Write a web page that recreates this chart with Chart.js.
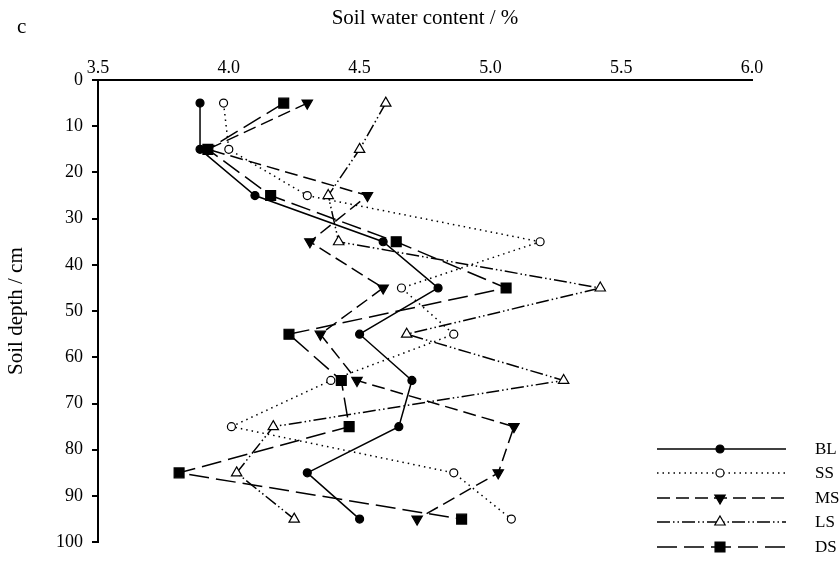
<!DOCTYPE html>
<html>
<head>
<meta charset="utf-8">
<script src="https://cdn.jsdelivr.net/npm/chart.js@4/dist/chart.umd.min.js"></script>
<style>
  html, body { margin: 0; padding: 0; background: #fff; }
  #wrap { width: 839px; height: 562px; position: relative; }
</style>
</head>
<body>
<div id="wrap"><canvas id="c" width="839" height="562"></canvas></div>
<script>
// Sampling depths (cm), midpoint of each 10 cm layer
const depths = [5, 15, 25, 35, 45, 55, 65, 75, 85, 95];

// Soil water content (%) per treatment
const BL = [3.89, 3.89, 4.10, 4.59, 4.80, 4.50, 4.70, 4.65, 4.30, 4.50];
const SS = [3.98, 4.00, 4.30, 5.19, 4.66, 4.86, 4.39, 4.01, 4.86, 5.08];
const MS = [4.30, 3.92, 4.53, 4.31, 4.59, 4.35, 4.49, 5.09, 5.03, 4.72];
const LS = [4.60, 4.50, 4.38, 4.42, 5.42, 4.68, 5.28, 4.17, 4.03, 4.25];
const DS = [4.21, 3.92, 4.16, 4.64, 5.06, 4.23, 4.43, 4.46, 3.81, 4.89];

const seriesNames = ['BL', 'SS', 'MS', 'LS', 'DS'];
const xTicks = [3.5, 4.0, 4.5, 5.0, 5.5, 6.0];
const yTicks = [0, 10, 20, 30, 40, 50, 60, 70, 80, 90, 100];

const SERIF = '"Liberation Serif", "DejaVu Serif", serif';

const styles = {
  BL: { dash: [], pointStyle: 'circle', radius: 4, fill: '#000', rotation: 0 },
  SS: { dash: [1.5, 4], pointStyle: 'circle', radius: 4, fill: '#fff', rotation: 0 },
  MS: { dash: [13, 6], pointStyle: 'triangle', radius: 6, fill: '#000', rotation: 180 },
  LS: { dash: [13, 3, 1.5, 3, 1.5, 3], pointStyle: 'triangle', radius: 6, fill: '#fff', rotation: 0 },
  DS: { dash: [20, 7], pointStyle: 'rect', radius: 7, fill: '#000', rotation: 0 }
};

const values = { BL, SS, MS, LS, DS };

const datasets = seriesNames.map(name => {
  const s = styles[name];
  return {
    label: name,
    data: values[name].map((v, i) => ({ x: v, y: depths[i] })),
    showLine: true,
    borderColor: '#000',
    borderWidth: 1.5,
    borderDash: s.dash,
    pointStyle: s.pointStyle,
    pointRadius: s.radius,
    pointHoverRadius: s.radius,
    pointRotation: s.rotation,
    pointBackgroundColor: s.fill,
    pointBorderColor: '#000',
    pointBorderWidth: 1.2,
    tension: 0
  };
});

// Panel letter and the line/marker key in the lower right
const decorations = {
  id: 'decorations',
  afterDraw(chart) {
    const ctx = chart.ctx;
    ctx.save();
    ctx.fillStyle = '#000';
    ctx.font = '21px ' + SERIF;
    ctx.textAlign = 'left';
    ctx.textBaseline = 'alphabetic';
    ctx.fillText('c', 17, 33);

    const x0 = 657, x1 = 786, xm = 720, tx = 815;
    const rows = [449, 473, 498, 522, 547];
    ctx.font = '17px ' + SERIF;
    ctx.textBaseline = 'middle';
    seriesNames.forEach((name, i) => {
      const s = styles[name];
      const y = rows[i];
      ctx.save();
      ctx.strokeStyle = '#000';
      ctx.lineWidth = 1.5;
      ctx.setLineDash(s.dash);
      ctx.beginPath();
      ctx.moveTo(x0, y);
      ctx.lineTo(x1, y);
      ctx.stroke();
      ctx.restore();
      ctx.save();
      ctx.fillStyle = s.fill;
      ctx.strokeStyle = '#000';
      ctx.lineWidth = 1.2;
      Chart.helpers.drawPoint(ctx, {
        pointStyle: s.pointStyle, radius: s.radius, rotation: s.rotation, borderWidth: 1.2
      }, xm, y);
      ctx.restore();
      ctx.fillStyle = '#000';
      ctx.fillText(name, tx, y + 1);
    });
    ctx.restore();
  }
};

new Chart(document.getElementById('c'), {
  type: 'scatter',
  data: { datasets },
  plugins: [decorations],
  options: {
    responsive: false,
    animation: false,
    devicePixelRatio: 1,
    layout: { padding: { left: 0, top: 0, right: 87, bottom: 12 } },
    plugins: { legend: { display: false }, tooltip: { enabled: false } },
    scales: {
      x: {
        type: 'linear',
        position: 'top',
        min: 3.5,
        max: 6.0,
        afterBuildTicks(scale) { scale.ticks = xTicks.map(v => ({ value: v })); },
        afterFit(scale) { scale.height = 80; },
        ticks: {
          color: '#000',
          font: { family: SERIF, size: 18 },
          padding: 1,
          callback: v => Number(v).toFixed(1)
        },
        grid: { display: true, drawOnChartArea: false, drawTicks: false },
        border: { display: true, color: '#000', width: 2 },
        title: {
          display: true,
          text: 'Soil water content / %',
          color: '#000',
          font: { family: SERIF, size: 21 },
          padding: { top: 6, bottom: 0 }
        }
      },
      y: {
        type: 'linear',
        reverse: true,
        min: 0,
        max: 100,
        afterBuildTicks(scale) { scale.ticks = yTicks.map(v => ({ value: v })); },
        afterFit(scale) { scale.width = 98; },
        ticks: {
          color: '#000',
          font: { family: SERIF, size: 18 },
          padding: 9
        },
        grid: { display: true, drawOnChartArea: false, drawTicks: true, tickLength: 6, color: '#000', lineWidth: 2 },
        border: { display: true, color: '#000', width: 2 },
        title: {
          display: true,
          text: 'Soil depth / cm',
          color: '#000',
          font: { family: SERIF, size: 21 },
          padding: { top: 4, bottom: 0 }
        }
      }
    }
  }
});
</script>
</body>
</html>
